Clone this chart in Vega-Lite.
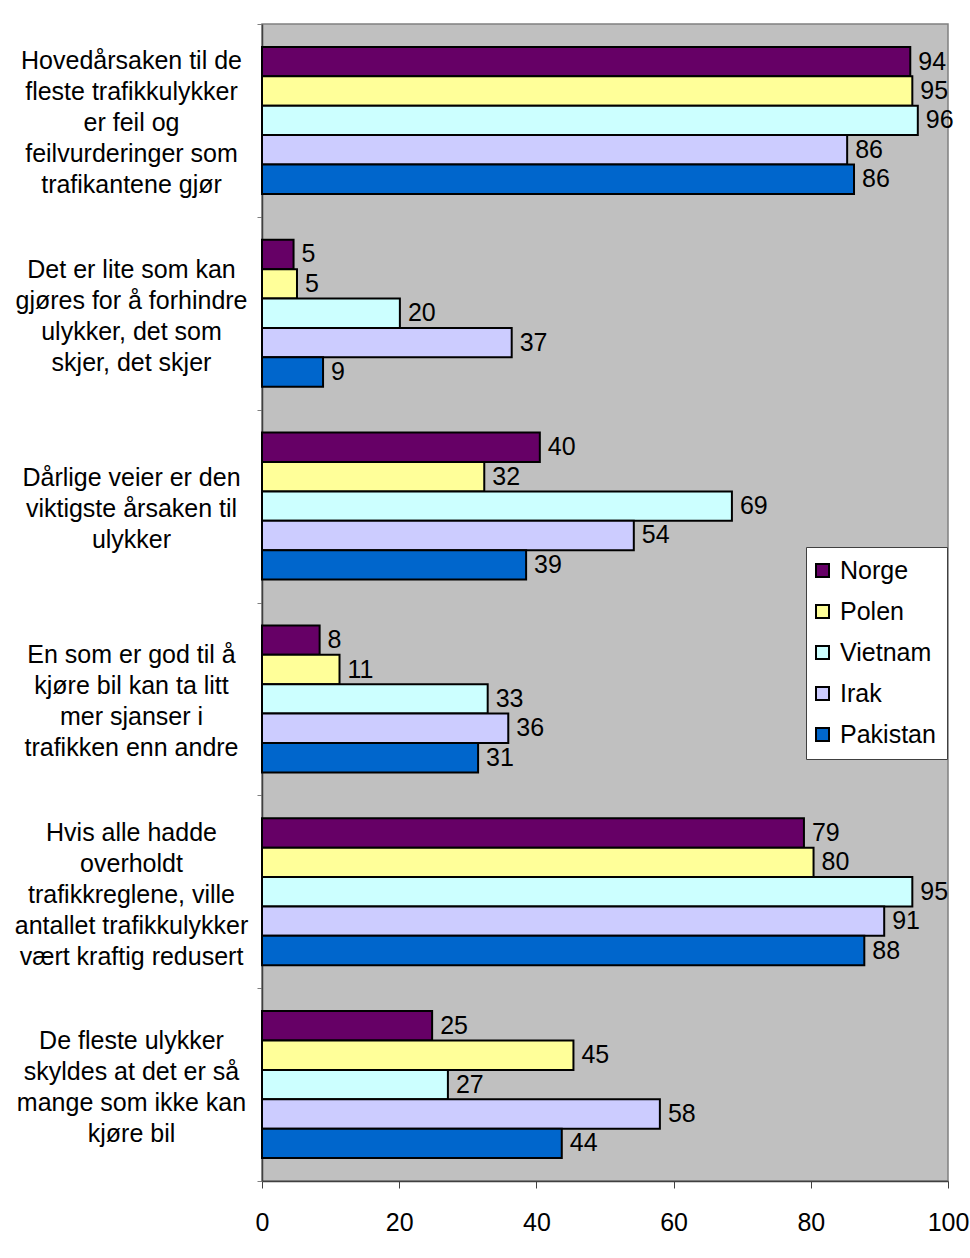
{
  "$schema": "https://vega.github.io/schema/vega-lite/v6.json",
  "width": 686,
  "height": 1157,
  "autosize": {"type": "none"},
  "padding": {"left": 262, "top": 24, "right": 22, "bottom": 77},
  "background": "white",
  "config": {
    "font": "Liberation Sans",
    "view": {"fill": "#C0C0C0", "stroke": "#808080", "strokeWidth": 1.5},
    "axis": {"labelFont": "Liberation Sans", "labelColor": "black", "grid": false}
  },
  "data": {
    "values": [
      {"question": "Hovedårsaken til de|fleste trafikkulykker|er feil og|feilvurderinger som|trafikantene gjør", "country": "Norge", "value": 94.5, "label": "94"},
      {"question": "Hovedårsaken til de|fleste trafikkulykker|er feil og|feilvurderinger som|trafikantene gjør", "country": "Polen", "value": 94.8, "label": "95"},
      {"question": "Hovedårsaken til de|fleste trafikkulykker|er feil og|feilvurderinger som|trafikantene gjør", "country": "Vietnam", "value": 95.6, "label": "96"},
      {"question": "Hovedårsaken til de|fleste trafikkulykker|er feil og|feilvurderinger som|trafikantene gjør", "country": "Irak", "value": 85.3, "label": "86"},
      {"question": "Hovedårsaken til de|fleste trafikkulykker|er feil og|feilvurderinger som|trafikantene gjør", "country": "Pakistan", "value": 86.3, "label": "86"},
      {"question": "Det er lite som kan|gjøres for å forhindre|ulykker, det som|skjer, det skjer", "country": "Norge", "value": 4.6, "label": "5"},
      {"question": "Det er lite som kan|gjøres for å forhindre|ulykker, det som|skjer, det skjer", "country": "Polen", "value": 5.1, "label": "5"},
      {"question": "Det er lite som kan|gjøres for å forhindre|ulykker, det som|skjer, det skjer", "country": "Vietnam", "value": 20.1, "label": "20"},
      {"question": "Det er lite som kan|gjøres for å forhindre|ulykker, det som|skjer, det skjer", "country": "Irak", "value": 36.4, "label": "37"},
      {"question": "Det er lite som kan|gjøres for å forhindre|ulykker, det som|skjer, det skjer", "country": "Pakistan", "value": 8.9, "label": "9"},
      {"question": "Dårlige veier er den|viktigste årsaken til|ulykker", "country": "Norge", "value": 40.5, "label": "40"},
      {"question": "Dårlige veier er den|viktigste årsaken til|ulykker", "country": "Polen", "value": 32.4, "label": "32"},
      {"question": "Dårlige veier er den|viktigste årsaken til|ulykker", "country": "Vietnam", "value": 68.5, "label": "69"},
      {"question": "Dårlige veier er den|viktigste årsaken til|ulykker", "country": "Irak", "value": 54.2, "label": "54"},
      {"question": "Dårlige veier er den|viktigste årsaken til|ulykker", "country": "Pakistan", "value": 38.5, "label": "39"},
      {"question": "En som er god til å|kjøre bil kan ta litt|mer sjanser i|trafikken enn andre", "country": "Norge", "value": 8.4, "label": "8"},
      {"question": "En som er god til å|kjøre bil kan ta litt|mer sjanser i|trafikken enn andre", "country": "Polen", "value": 11.3, "label": "11"},
      {"question": "En som er god til å|kjøre bil kan ta litt|mer sjanser i|trafikken enn andre", "country": "Vietnam", "value": 32.9, "label": "33"},
      {"question": "En som er god til å|kjøre bil kan ta litt|mer sjanser i|trafikken enn andre", "country": "Irak", "value": 35.9, "label": "36"},
      {"question": "En som er god til å|kjøre bil kan ta litt|mer sjanser i|trafikken enn andre", "country": "Pakistan", "value": 31.5, "label": "31"},
      {"question": "Hvis alle hadde|overholdt|trafikkreglene, ville|antallet trafikkulykker|vært kraftig redusert", "country": "Norge", "value": 79.0, "label": "79"},
      {"question": "Hvis alle hadde|overholdt|trafikkreglene, ville|antallet trafikkulykker|vært kraftig redusert", "country": "Polen", "value": 80.4, "label": "80"},
      {"question": "Hvis alle hadde|overholdt|trafikkreglene, ville|antallet trafikkulykker|vært kraftig redusert", "country": "Vietnam", "value": 94.8, "label": "95"},
      {"question": "Hvis alle hadde|overholdt|trafikkreglene, ville|antallet trafikkulykker|vært kraftig redusert", "country": "Irak", "value": 90.7, "label": "91"},
      {"question": "Hvis alle hadde|overholdt|trafikkreglene, ville|antallet trafikkulykker|vært kraftig redusert", "country": "Pakistan", "value": 87.8, "label": "88"},
      {"question": "De fleste ulykker|skyldes at det er så|mange som ikke kan|kjøre bil", "country": "Norge", "value": 24.8, "label": "25"},
      {"question": "De fleste ulykker|skyldes at det er så|mange som ikke kan|kjøre bil", "country": "Polen", "value": 45.4, "label": "45"},
      {"question": "De fleste ulykker|skyldes at det er så|mange som ikke kan|kjøre bil", "country": "Vietnam", "value": 27.1, "label": "27"},
      {"question": "De fleste ulykker|skyldes at det er så|mange som ikke kan|kjøre bil", "country": "Irak", "value": 58.0, "label": "58"},
      {"question": "De fleste ulykker|skyldes at det er så|mange som ikke kan|kjøre bil", "country": "Pakistan", "value": 43.7, "label": "44"}
    ]
  },
  "encoding": {
    "y": {
      "field": "question",
      "type": "nominal",
      "sort": null,
      "scale": {"paddingInner": 0, "paddingOuter": 0},
      "axis": {
        "title": null,
        "labelExpr": "split(datum.label, '|')",
        "labelAlign": "center",
        "labelBaseline": "middle",
        "labelFontSize": 25,
        "labelLineHeight": 31,
        "labelPadding": 126,
        "labelLimit": 0,
        "labelOffset": {
          "condition": [
            {"test": "length(split(datum.value, '|')) == 5", "value": -59.5},
            {"test": "length(split(datum.value, '|')) == 4", "value": -44}
          ],
          "value": -28.5
        },
        "tickBand": "extent",
        "tickSize": 5,
        "tickColor": "#808080",
        "domainColor": "#404040",
        "domainWidth": 1.5
      }
    },
    "yOffset": {
      "field": "country",
      "type": "nominal",
      "sort": ["Norge", "Polen", "Vietnam", "Irak", "Pakistan"],
      "scale": {"paddingInner": 0, "paddingOuter": 0.78}
    },
    "x": {
      "field": "value",
      "type": "quantitative",
      "scale": {"domain": [0, 100], "nice": false},
      "axis": {
        "title": null,
        "values": [0, 20, 40, 60, 80, 100],
        "labelFontSize": 25,
        "labelPadding": 22,
        "tickSize": 7,
        "tickColor": "#404040",
        "domainColor": "#404040",
        "domainWidth": 1.5,
        "labelFlush": false
      }
    }
  },
  "layer": [
    {
      "mark": {"type": "bar", "stroke": "black", "strokeWidth": 2},
      "encoding": {
        "color": {
          "field": "country",
          "type": "nominal",
          "scale": {
            "domain": ["Norge", "Polen", "Vietnam", "Irak", "Pakistan"],
            "range": ["#660066", "#FFFF99", "#CCFFFF", "#CCCCFF", "#0066CC"]
          },
          "legend": {
            "title": null,
            "orient": "none",
            "legendX": 544,
            "legendY": 523,
            "fillColor": "white",
            "strokeColor": "#404040",
            "padding": 11,
            "rowPadding": 15,
            "symbolType": "square",
            "symbolSize": 169,
            "symbolOffset": -7,
            "symbolStrokeColor": "black",
            "symbolStrokeWidth": 2,
            "symbolOpacity": 1,
            "labelFontSize": 25,
            "labelFont": "Liberation Sans",
            "labelColor": "black",
            "labelOffset": 5
          }
        }
      }
    },
    {
      "mark": {"type": "text", "align": "left", "baseline": "middle", "dx": 8, "fontSize": 25, "color": "black", "font": "Liberation Sans"},
      "encoding": {
        "text": {"field": "label"}
      }
    }
  ]
}
